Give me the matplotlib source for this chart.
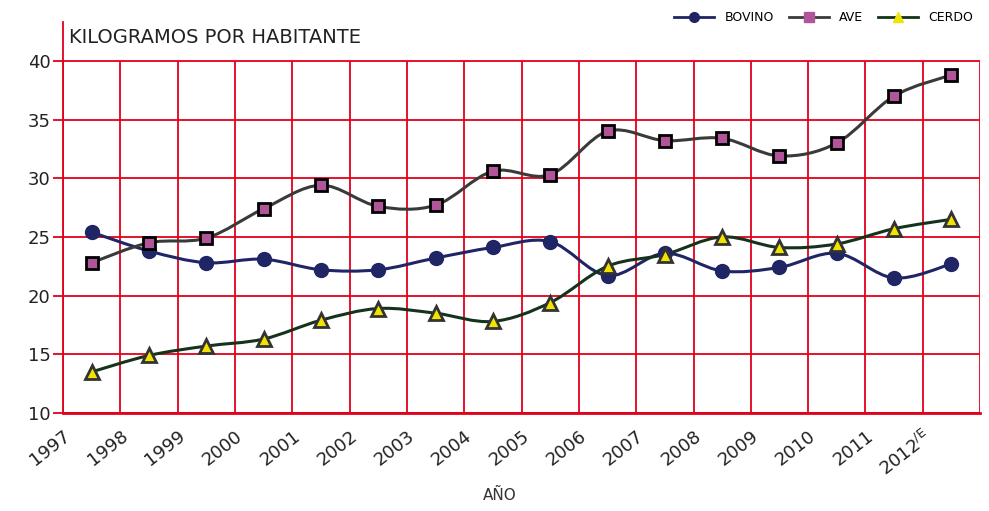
import numpy as np
import matplotlib
matplotlib.use("Agg")
import matplotlib.pyplot as plt
from matplotlib.path import Path
from matplotlib.patches import PathPatch
from matplotlib.lines import Line2D

plt.rcParams['font.family'] = ['DejaVu Sans']

years = ["1997", "1998", "1999", "2000", "2001", "2002", "2003", "2004",
         "2005", "2006", "2007", "2008", "2009", "2010", "2011",
         r"2012$^{\mathregular{/E}}$"]
bovino = [25.4, 23.8, 22.8, 23.1, 22.2, 22.2, 23.2, 24.1,
          24.6, 21.7, 23.6, 22.1, 22.4, 23.6, 21.5, 22.7]
ave = [22.8, 24.5, 24.9, 27.4, 29.4, 27.6, 27.7, 30.6,
       30.3, 34.0, 33.2, 33.4, 31.9, 33.0, 37.0, 38.8]
cerdo = [13.5, 14.9, 15.7, 16.3, 17.9, 18.9, 18.5, 17.8,
         19.4, 22.5, 23.5, 25.0, 24.1, 24.4, 25.7, 26.5]

red = '#E2001A'


def smooth_path(x, y):
    # catmull-rom through the points, as bezier segments
    x = np.asarray(x, float)
    y = np.asarray(y, float)
    pts = np.column_stack([x, y])
    verts = [pts[0]]
    codes = [Path.MOVETO]
    n = len(pts)
    for i in range(n - 1):
        p0 = pts[i - 1] if i > 0 else pts[i]
        p1 = pts[i]
        p2 = pts[i + 1]
        p3 = pts[i + 2] if i + 2 < n else pts[i + 1]
        c1 = p1 + (p2 - p0) / 6.0
        c2 = p2 - (p3 - p1) / 6.0
        verts += [c1, c2, p2]
        codes += [Path.CURVE4] * 3
    return Path(verts, codes)


fig = plt.figure(figsize=(9.89, 5.11), dpi=100)
ax = fig.add_axes([0.0637, 0.1918, 0.9273, 0.765])
x = np.arange(len(years))

ax.set_xlim(-0.5, 15.5)
ax.set_ylim(10, 43.3)

# grid
for yv in range(10, 41, 5):
    ax.axhline(yv, color=red, lw=1.3, zorder=1)
ax.vlines(np.arange(-0.5, 16, 1.0), 10, 40, color=red, lw=1.3, zorder=1)

series = [
    (bovino, '#1F2565', 'o', '#1F2565', '#1F2565', 10, 'BOVINO'),
    (ave, '#3A3A3A', 's', '#B0559A', '#000000', 9, 'AVE'),
    (cerdo, '#15331A', '^', '#F2E400', '#333333', 10, 'CERDO'),
]
handles = []
for vals, lc, mk, fc, ec, ms, name in series:
    ax.add_patch(PathPatch(smooth_path(x, vals), fill=False, edgecolor=lc,
                           lw=2.2, zorder=3))
    ax.plot(x, vals, ls='none', marker=mk, ms=ms, mfc=fc, mec=ec,
            mew=2 if mk != 'o' else 1, zorder=4)
    handles.append(Line2D([], [], color=lc, lw=2, marker=mk, ms=7,
                          mfc=fc, mec=fc, label=name))

for s in ['top', 'right']:
    ax.spines[s].set_visible(False)
ax.spines['left'].set_color(red)
ax.spines['left'].set_linewidth(1.3)
ax.spines['bottom'].set_color(red)
ax.spines['bottom'].set_linewidth(2)

ax.set_yticks(range(10, 41, 5))
ax.tick_params(axis='y', colors=red, length=7, width=1.3, labelsize=13,
               labelcolor='#222222', pad=2)
ax.set_xticks(x - 0.5)
ax.set_xticklabels(years, rotation=38, ha='right', va='top',
                   rotation_mode='anchor', fontsize=13, color='#222222')
ax.tick_params(axis='x', length=0, pad=10)

ax.text(0.006, 0.985, 'KILOGRAMOS POR HABITANTE', transform=ax.transAxes,
        fontsize=14, color='#222222', va='top', ha='left')
fig.text(0.505, 0.03, 'AÑO', ha='center', va='center', fontsize=11,
         color='#333333')

fig.legend(handles=handles, loc='upper right', bbox_to_anchor=(0.995, 1.0),
           ncol=3, frameon=False, fontsize=9, handlelength=3.2,
           columnspacing=1.2, handletextpad=0.8)

fig.savefig('out.png', dpi=100)
